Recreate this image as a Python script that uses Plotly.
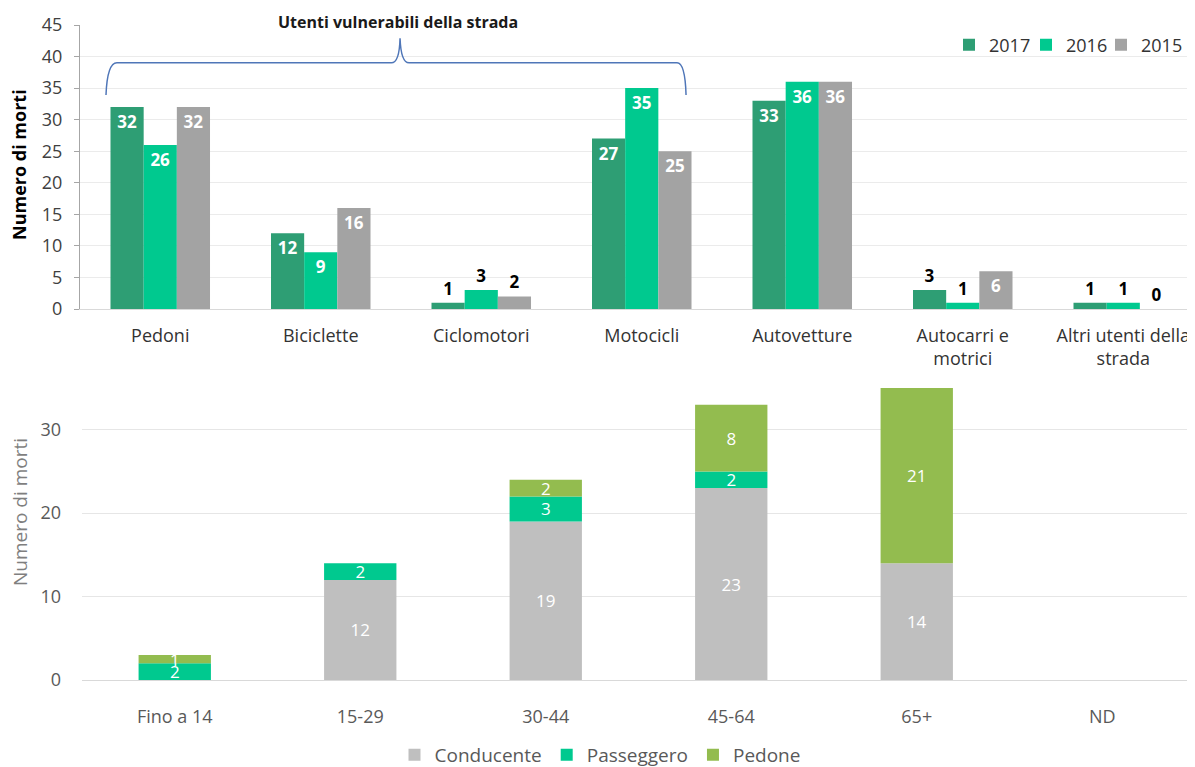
import plotly.graph_objects as go

# --- top chart: deaths by road user category, 2015-2017
categorie = ["Pedoni", "Biciclette", "Ciclomotori", "Motocicli", "Autovetture",
             "Autocarri e<br>motrici", "Altri utenti della<br>strada"]
anni = ["2017", "2016", "2015"]
morti_2017 = [32, 12, 1, 27, 33, 3, 1]
morti_2016 = [26, 9, 3, 35, 36, 1, 1]
morti_2015 = [32, 16, 2, 25, 36, 6, 0]

# --- bottom chart: deaths by age class and role
fasce_eta = ["Fino a 14", "15-29", "30-44", "45-64", "65+", "ND"]
ruoli = ["Conducente", "Passeggero", "Pedone"]
conducente = [0, 12, 19, 23, 14, 0]
passeggero = [2, 2, 3, 2, 0, 0]
pedone = [1, 0, 2, 8, 21, 0]

# the page body has an 8px margin, so the figure starts at (8, 8)
OFF = 8
W, H = 1195 - OFF, 767 - OFF
FONT = "Open Sans"

colori_anni = {"2017": "#2E9E74", "2016": "#00C98F", "2015": "#A3A3A3"}
colori_ruoli = {"Conducente": "#BFBFBF", "Passeggero": "#00C98F", "Pedone": "#93BC4F"}
# one small legend per year so the entries can sit as tight as in the original
legende_anni = {"2017": "legend", "2016": "legend3", "2015": "legend4"}
x_legende = {"legend": 949, "legend3": 1026, "legend4": 1101}


def px_(x):
    # screen column -> paper fraction
    return (x - OFF) / W


def py(y):
    # screen row -> paper fraction
    return 1 - (y - OFF) / H


fig = go.Figure()

for anno, valori in zip(anni, [morti_2017, morti_2016, morti_2015]):
    fig.add_trace(go.Bar(
        x=categorie, y=valori, name=anno, offsetgroup=anno,
        marker=dict(color=colori_anni[anno], line=dict(width=0)),
        text=[str(v) for v in valori],
        textposition=["inside" if v >= 5 else "outside" for v in valori],
        insidetextanchor="end", textangle=0,
        insidetextfont=dict(family=FONT, size=17, color="white", weight="bold"),
        outsidetextfont=dict(family=FONT, size=17, color="black", weight="bold"),
        constraintext="none", cliponaxis=False, showlegend=True,
        xaxis="x", yaxis="y", legend=legende_anni[anno],
    ))

# stacked bars for the bottom chart: same offsetgroup, base = running total
base = [0] * len(fasce_eta)
for ruolo, valori in zip(ruoli, [conducente, passeggero, pedone]):
    fig.add_trace(go.Bar(
        x=fasce_eta, y=valori, base=list(base), name=ruolo, offsetgroup="stack",
        width=0.39,
        marker=dict(color=colori_ruoli[ruolo], line=dict(width=0)),
        text=[str(v) if v else "" for v in valori],
        textposition="inside", insidetextanchor="middle", textangle=0,
        insidetextfont=dict(family=FONT, size=17, color="white"),
        constraintext="none", showlegend=True,
        xaxis="x2", yaxis="y2", legend="legend2",
    ))
    base = [b + v for b, v in zip(base, valori)]

# curly brace over the vulnerable road users
brace = ("M -0.338,33.9 Q -0.33,39 -0.27,39 L 1.44,39 Q 1.49,39 1.494,42.9 "
         "Q 1.50,39 1.55,39 L 3.22,39 Q 3.27,39 3.276,33.9")

legenda_top = dict(orientation="h", xanchor="left", y=py(45), yanchor="middle",
                   font=dict(size=18, color="#333333"), itemwidth=30,
                   bgcolor="rgba(0,0,0,0)")

fig.update_layout(
    width=W, height=H, showlegend=True,
    margin=dict(l=0, r=0, t=0, b=0, autoexpand=False),
    paper_bgcolor="white", plot_bgcolor="white",
    font=dict(family=FONT, size=18, color="#404040"),
    barmode="group", bargap=0.38, bargroupgap=0,
    xaxis=dict(domain=[px_(80), 1], range=[-0.5, -0.5 + (1195 - 80) / 160.5],
               showgrid=False, showline=True, linecolor="#D9D9D9",
               ticks="", ticklabelstandoff=10,
               tickfont=dict(size=18, color="#333333"), anchor="y"),
    yaxis=dict(domain=[py(309), py(25)], range=[0, 45], dtick=5,
               showgrid=True, gridcolor="#EBEBEB", zeroline=False,
               showline=True, linecolor="#A6A6A6", ticks="outside", ticklen=5,
               tickcolor="#A6A6A6", ticklabelstandoff=8,
               tickfont=dict(size=18, color="#404040"), anchor="x"),
    xaxis2=dict(domain=[px_(82), 1], range=[-0.5, -0.5 + (1195 - 82) / 185.5],
                showgrid=False, showline=True, linecolor="#D9D9D9",
                ticks="", ticklabelstandoff=20,
                tickfont=dict(size=18, color="#595959"), anchor="y2"),
    yaxis2=dict(domain=[py(680), py(388)], range=[0, 35], tickvals=[0, 10, 20, 30],
                showgrid=True, gridcolor="#E6E6E6", zeroline=False,
                showline=False, ticks="", ticklabelstandoff=20,
                tickfont=dict(size=18, color="#595959"), anchor="x2"),
    legend=dict(legenda_top, x=px_(x_legende["legend"])),
    legend3=dict(legenda_top, x=px_(x_legende["legend3"])),
    legend4=dict(legenda_top, x=px_(x_legende["legend4"])),
    legend2=dict(orientation="h", x=px_(600), xanchor="center", y=py(755), yanchor="middle",
                 font=dict(size=19, color="#595959"), itemwidth=30,
                 traceorder="normal", bgcolor="rgba(0,0,0,0)"),
    shapes=[dict(type="path", path=brace, xref="x", yref="y",
                 line=dict(color="#4F76B8", width=1.5))],
    annotations=[
        dict(text="<b>Utenti vulnerabili della strada</b>", x=px_(398), y=py(22),
             xref="paper", yref="paper", xanchor="center", yanchor="middle",
             showarrow=False, font=dict(size=16, color="#1A1A1A")),
        dict(text="<b>Numero di morti</b>", x=px_(19), y=py(165), textangle=-90,
             xref="paper", yref="paper", xanchor="center", yanchor="middle",
             showarrow=False, font=dict(size=18, color="#000000")),
        dict(text="Numero di morti", x=px_(20), y=py(512), textangle=-90,
             xref="paper", yref="paper", xanchor="center", yanchor="middle",
             showarrow=False, font=dict(size=19, color="#7F7F7F")),
    ],
)

fig.write_html("out.html")
